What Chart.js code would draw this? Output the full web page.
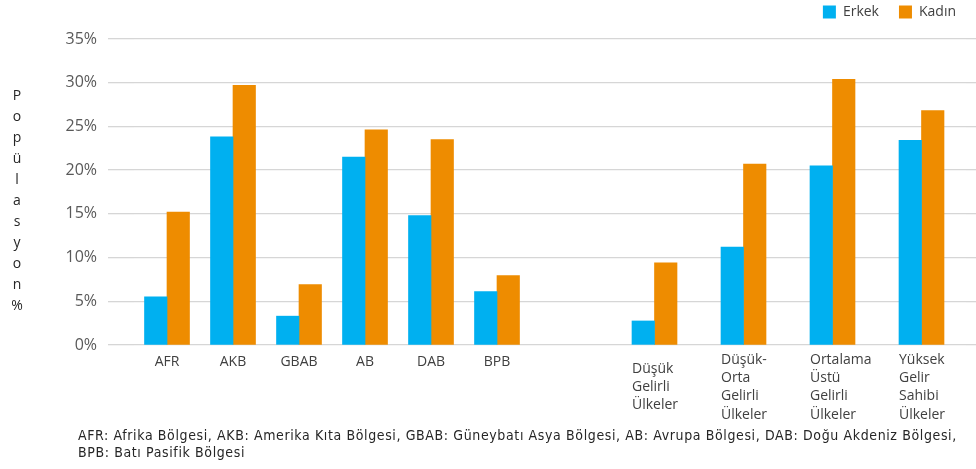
<!DOCTYPE html>
<html lang="tr">
<head>
<meta charset="utf-8">
<script src="https://cdn.jsdelivr.net/npm/chart.js@4.4.1/dist/chart.umd.min.js"></script>
<style>
  html, body { margin: 0; padding: 0; background: #fff; }
  #wrap { position: relative; width: 976px; height: 469px; overflow: hidden; font-family: "Open Sans", "Noto Sans", sans-serif; }
  #leftBox { position: absolute; left: 0; top: 0; width: 530px; height: 430px; }
  #rightBox { position: absolute; left: 530px; top: 0; width: 446px; height: 430px; }
  #yTitle { position: absolute; left: 9px; top: 84px; width: 16px; text-align: center; font-size: 14px; line-height: 21px; color: #262626; }
  #note { position: absolute; left: 78px; top: 427px; font-family: "Liberation Sans Narrow", "DejaVu Sans Condensed", sans-serif; font-size: 14px; letter-spacing: 0.62px; line-height: 17px; color: #262626; white-space: nowrap; }
</style>
</head>
<body>
<div id="wrap">
  <div id="leftBox"><canvas id="regionChart"></canvas></div>
  <div id="rightBox"><canvas id="incomeChart"></canvas></div>
  <div id="yTitle">P<br>o<br>p<br>ü<br>l<br>a<br>s<br>y<br>o<br>n<br>%</div>
  <div id="note">AFR: Afrika Bölgesi, AKB: Amerika Kıta Bölgesi, GBAB: Güneybatı Asya Bölgesi, AB: Avrupa Bölgesi, DAB: Doğu Akdeniz Bölgesi,<br>BPB: Batı Pasifik Bölgesi</div>
</div>
<script>
// DSÖ bölgeleri
const regions = ['AFR', 'AKB', 'GBAB', 'AB', 'DAB', 'BPB'];
const regionMale = [5.5, 23.8, 3.3, 21.5, 14.8, 6.1];
const regionFemale = [15.2, 29.7, 6.9, 24.6, 23.5, 7.95];

// gelir grupları
const incomeGroups = [
    ['Düşük', 'Gelirli', 'Ülkeler'],
    ['Düşük-', 'Orta', 'Gelirli', 'Ülkeler'],
    ['Ortalama', 'Üstü', 'Gelirli', 'Ülkeler'],
    ['Yüksek', 'Gelir', 'Sahibi', 'Ülkeler']
];
const incomeMale = [2.75, 11.2, 20.5, 23.4];
const incomeFemale = [9.4, 20.7, 30.4, 26.8];

const seriesNames = ['Erkek', 'Kadın'];
const yMin = 0, yMax = 35, yStep = 5;

const blue = '#00B0F0';
const orange = '#EE8C00';
const gridColor = '#D6D6D6';
const textDark = '#404040';

Chart.defaults.font.family = '"Open Sans", "Noto Sans", sans-serif';

function datasets(male, female) {
    return [
        { label: seriesNames[0], data: male, backgroundColor: blue, borderWidth: 0, barThickness: 22.5 },
        { label: seriesNames[1], data: female, backgroundColor: orange, borderWidth: 0, barThickness: 22.5 }
    ];
}

function xAxis(extraTicks) {
    return {
        grid: { display: false, drawTicks: false },
        border: { display: false },
        ticks: Object.assign({ color: textDark, font: { size: 14, lineHeight: 1.3 }, padding: 8, autoSkip: false, maxRotation: 0 }, extraTicks),
        afterFit: (scale) => {
            scale.height = 85;
            // labels may run past the plot edge, keep the plot width fixed anyway
            scale.paddingLeft = 0;
            scale.paddingRight = 0;
        }
    };
}

// value axis without labels, its tick marks just carry the grid lines sideways
function plainYAxis(position, length, onChart) {
    return {
        position: position,
        min: yMin,
        max: yMax,
        ticks: { display: false, stepSize: yStep },
        grid: { color: gridColor, lineWidth: 1.3, tickLength: length, drawOnChartArea: onChart },
        border: { display: false },
        afterFit: (scale) => { scale.width = length; }
    };
}

new Chart(document.getElementById('regionChart'), {
    type: 'bar',
    data: { labels: regions, datasets: datasets(regionMale, regionFemale) },
    options: {
        responsive: true,
        maintainAspectRatio: false,
        animation: false,
        layout: { padding: { top: 39, right: 0, bottom: 0, left: 0 } },
        plugins: { legend: { display: false }, tooltip: { enabled: false } },
        scales: {
            x: xAxis({}),
            y: {
                min: yMin,
                max: yMax,
                ticks: {
                    stepSize: yStep,
                    callback: v => v + '%',
                    color: '#595959',
                    font: { size: 16 },
                    padding: 11
                },
                grid: { color: gridColor, lineWidth: 1.3, tickLength: 26 },
                border: { display: false },
                afterFit: (scale) => { scale.width = 134; }
            }
        }
    }
});

new Chart(document.getElementById('incomeChart'), {
    type: 'bar',
    data: { labels: incomeGroups, datasets: datasets(incomeMale, incomeFemale) },
    options: {
        responsive: true,
        maintainAspectRatio: false,
        animation: false,
        // legend sits above the plot; the negative top keeps the plot top level with the left chart
        layout: { padding: { top: -15, right: 0, bottom: 0, left: 0 } },
        plugins: {
            legend: {
                position: 'top',
                align: 'end',
                labels: { boxWidth: 13, boxHeight: 13, color: textDark, font: { size: 14 }, padding: 20 }
            },
            tooltip: { enabled: false }
        },
        scales: {
            x: xAxis({ align: 'start', labelOffset: -22.5, crossAlign: 'center', padding: 15 }),
            // empty top axis, only a gap between the legend and the plot
            gap: {
                type: 'category',
                position: 'top',
                grid: { display: false, drawTicks: false },
                border: { display: false },
                ticks: { display: false },
                afterFit: (scale) => { scale.height = 10; scale.paddingLeft = 0; scale.paddingRight = 0; }
            },
            y: plainYAxis('left', 80, true),
            yRight: plainYAxis('right', 10, false)
        }
    }
});
</script>
</body>
</html>
